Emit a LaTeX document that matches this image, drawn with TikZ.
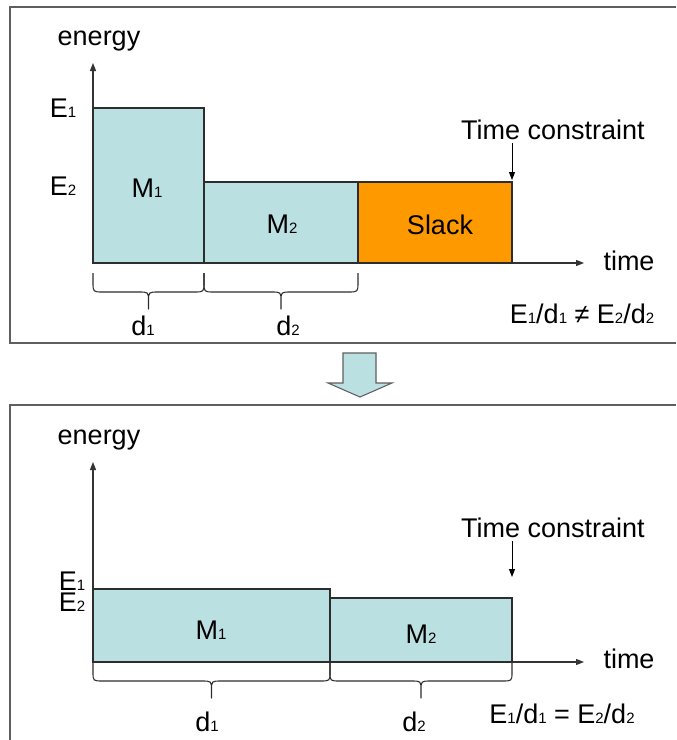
\documentclass[tikz,border=0pt]{standalone}
\usepackage{fontspec}
\setmainfont{Liberation Sans}
\usetikzlibrary{arrows.meta}
\definecolor{boxblue}{RGB}{186,224,226}
\definecolor{slackorange}{RGB}{255,153,0}
\definecolor{edgegray}{RGB}{45,45,45}
\definecolor{framegray}{RGB}{95,95,95}
% small index digit set on the baseline
\newcommand{\ix}[1]{{\fontsize{11.25pt}{12pt}\selectfont #1}}
% curly brace below an interval: xa, xb, top y, middle y, tip y
\newcommand{\bracecurve}[5]{%
  \pgfmathsetmacro\bcmid{(#1+#2)/2}%
  \draw[bracestyle] (#1,#3) -- (#1,#3+9) .. controls (#1,#4) .. (#1+10,#4)
    -- (\bcmid-10,#4) .. controls (\bcmid,#4) .. (\bcmid,#4+9) -- (\bcmid,#5)
    -- (\bcmid,#4+9) .. controls (\bcmid,#4) .. (\bcmid+10,#4)
    -- (#2-10,#4) .. controls (#2,#4) .. (#2,#3+9) -- (#2,#3);}
\begin{document}
\begin{tikzpicture}[x=0.75pt,y=-0.75pt,
  lbl/.style={font=\fontsize{20.25pt}{22pt}\selectfont, inner sep=0pt},
  bar/.style={draw=edgegray, line width=1.1pt, fill=boxblue},
  slackbar/.style={draw=edgegray, line width=1.1pt, fill=slackorange},
  axis/.style={draw=black!80, line width=0.8pt, -{Triangle[length=6pt,width=4.5pt]}},
  marker/.style={draw=black, line width=0.7pt, -{Triangle[length=6pt,width=4.5pt]}},
  bracestyle/.style={draw=edgegray, line width=0.8pt, line join=round},
  frame/.style={draw=framegray, line width=1pt},
  bigarrow/.style={draw=framegray, line width=0.8pt, fill=boxblue}]
\useasboundingbox (0,0) rectangle (676,740);

% panel frames (right side runs past the edge)
\draw[frame] (676,7) -- (10,7) -- (10,343) -- (676,343);
\draw[frame] (676,405) -- (10,405) -- (10,740);

% transition arrow between the panels
\draw[bigarrow] (343,353) -- (376,353) -- (376,383) -- (392,383) -- (360,397)
  -- (328,383) -- (343,383) -- cycle;

%%%%%%%% upper panel: before
\coordinate (o1) at (93,263);
\coordinate (ytip1) at (93,63);
\coordinate (xtip1) at (584,263);
\draw[axis] (o1) -- (ytip1);
\draw[axis] (o1) -- (xtip1);

\path[bar] (93,108) rectangle (204,263);
\path[bar] (204,182) rectangle (358,263);
\path[slackbar] (358,182) rectangle (512,263);

\node[lbl] (en1) at (99,41) {energy};
\node[lbl] (t1) at (629,261) {time};
\node[lbl] (e1a) at (63,108) {E\ix{1}};
\node[lbl] (e2a) at (63,186) {E\ix{2}};
\node[lbl] (m1a) at (147,188) {M\ix{1}};
\node[lbl] (m2a) at (282,224) {M\ix{2}};
\node[lbl] (sl) at (440,225) {Slack};
\node[lbl] (tc1) at (553,130) {Time constraint};
\coordinate (tcs1) at (512,143);
\coordinate (tce1) at (512,180);
\draw[marker] (tcs1) -- (tce1);

\bracecurve{93}{204}{273}{292}{309}
\bracecurve{204}{358}{273}{292}{309}
\node[lbl] (d1a) at (143,326) {d\ix{1}};
\node[lbl] (d2a) at (288,326) {d\ix{2}};
\node[lbl] (ra) at (582,314) {E\ix{1}/d\ix{1} ≠ E\ix{2}/d\ix{2}};

%%%%%%%% lower panel: after
\coordinate (o2) at (93,662);
\coordinate (ytip2) at (93,462);
\coordinate (xtip2) at (584,662);
\draw[axis] (o2) -- (ytip2);
\draw[axis] (o2) -- (xtip2);

\path[bar] (93,589) rectangle (330,662);
\path[bar] (330,598) rectangle (512,662);

\node[lbl] (en2) at (99,440) {energy};
\node[lbl] (t2) at (629,659) {time};
\node[lbl] (e1b) at (72,581) {E\ix{1}};
\node[lbl] (e2b) at (72,602) {E\ix{2}};
\node[lbl] (m1b) at (211,630) {M\ix{1}};
\node[lbl] (m2b) at (421,634) {M\ix{2}};
\node[lbl] (tc2) at (553,528) {Time constraint};
\coordinate (tcs2) at (512,541);
\coordinate (tce2) at (512,577);
\draw[marker] (tcs2) -- (tce2);

\bracecurve{93}{330}{663}{681}{698}
\bracecurve{330}{512}{663}{681}{698}
\node[lbl] (d1b) at (207,722) {d\ix{1}};
\node[lbl] (d2b) at (414,722) {d\ix{2}};
\node[lbl] (rb) at (562,714) {E\ix{1}/d\ix{1} = E\ix{2}/d\ix{2}};
\end{tikzpicture}
\end{document}
